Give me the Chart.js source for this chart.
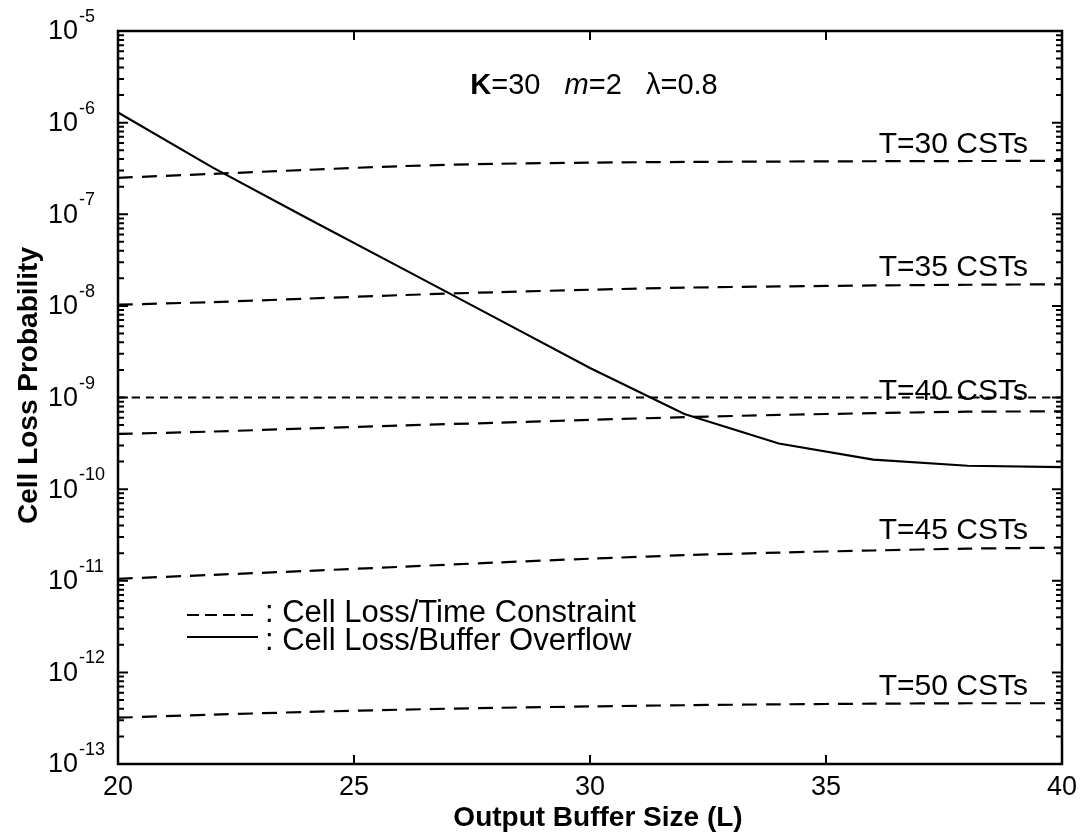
<!DOCTYPE html>
<html>
<head>
<meta charset="utf-8">
<script src="https://cdn.jsdelivr.net/npm/chart.js@4.4.1/dist/chart.umd.min.js"></script>
<style>
  html, body { margin: 0; padding: 0; background: #fff; }
  #wrap { width: 1083px; height: 840px; }
</style>
</head>
<body>
<div id="wrap"><canvas id="chart" width="1083" height="840"></canvas></div>
<script>
// Output buffer size L
const bufferSizes = [20, 22, 24, 26, 28, 30, 32, 34, 36, 38, 40];

// cell loss due to buffer overflow
const overflowLoss = [1.29e-6, 3.25e-7, 9.1e-8, 2.6e-8, 7.4e-9, 2.1e-9, 6.6e-10, 3.15e-10, 2.1e-10, 1.8e-10, 1.74e-10];

// cell loss due to the time constraint, T in CSTs
const lossT30 = [2.5e-7, 2.76e-7, 3.05e-7, 3.35e-7, 3.55e-7, 3.66e-7, 3.72e-7, 3.76e-7, 3.79e-7, 3.81e-7, 3.82e-7];
const lossT35 = [1.03e-8, 1.1e-8, 1.2e-8, 1.31e-8, 1.41e-8, 1.5e-8, 1.58e-8, 1.63e-8, 1.67e-8, 1.7e-8, 1.72e-8];
const lossT40 = [4.0e-10, 4.25e-10, 4.6e-10, 4.95e-10, 5.3e-10, 5.7e-10, 6.1e-10, 6.45e-10, 6.75e-10, 7.0e-10, 7.05e-10];
const lossT40b = [1e-9, 1e-9, 1e-9, 1e-9, 1e-9, 1e-9, 1e-9, 1e-9, 1e-9, 1e-9, 1e-9];
const lossT45 = [1.05e-11, 1.16e-11, 1.28e-11, 1.42e-11, 1.58e-11, 1.74e-11, 1.9e-11, 2.03e-11, 2.14e-11, 2.24e-11, 2.3e-11];
const lossT50 = [3.2e-13, 3.45e-13, 3.7e-13, 3.92e-13, 4.1e-13, 4.25e-13, 4.38e-13, 4.48e-13, 4.55e-13, 4.6e-13, 4.6e-13];

const curveNames = ['T=30 CSTs', 'T=35 CSTs', 'T=40 CSTs', 'T=45 CSTs', 'T=50 CSTs'];

// axis ticks
const xTicks = [20, 25, 30, 35, 40];
const yExponents = [-5, -6, -7, -8, -9, -10, -11, -12, -13];
const minorSteps = [2, 3, 4, 5, 6, 7, 8, 9];

const FONT = '"Liberation Sans", Arial, Helvetica, sans-serif';

function toPoints(ys) {
    return bufferSizes.map((x, i) => ({ x: x, y: ys[i] }));
}

function dashed(ys, dash, name) {
    return {
        label: name,
        data: toPoints(ys),
        borderColor: '#000',
        borderWidth: 2.2,
        borderDash: dash,
        pointRadius: 0,
        tension: 0.3,
        fill: false
    };
}

// which dataset each "T=.. CSTs" label sits on, and how far above it
const labelPlacement = [
    { dataset: 1, dy: -8 },
    { dataset: 2, dy: -8 },
    { dataset: 4, dy: 2 },
    { dataset: 5, dy: -9 },
    { dataset: 6, dy: -8 }
];

function tickPair(ctx, area, py, len) {
    ctx.beginPath();
    ctx.moveTo(area.left, py);
    ctx.lineTo(area.left + len, py);
    ctx.moveTo(area.right, py);
    ctx.lineTo(area.right - len, py);
    ctx.stroke();
}

// frame, ticks, labels, legend and annotations all drawn by hand
const decorations = {
    id: 'decorations',
    afterDraw(chart) {
        const ctx = chart.ctx;
        const area = chart.chartArea;
        const xs = chart.scales.x;
        const ys = chart.scales.y;
        ctx.save();
        ctx.setLineDash([]);
        ctx.strokeStyle = '#000';
        ctx.fillStyle = '#000';

        // frame
        ctx.lineWidth = 2.5;
        ctx.strokeRect(area.left, area.top, area.right - area.left, area.bottom - area.top);

        // y ticks on both sides: decades long, 2..9 short
        ctx.lineWidth = 2;
        yExponents.forEach(e => {
            const base = Math.pow(10, e);
            tickPair(ctx, area, ys.getPixelForValue(base), 10);
            if (e < -5) {
                minorSteps.forEach(k => {
                    tickPair(ctx, area, ys.getPixelForValue(k * base), 6);
                });
            }
        });
        // x ticks top and bottom
        ctx.beginPath();
        xTicks.forEach(v => {
            const px = xs.getPixelForValue(v);
            ctx.moveTo(px, area.bottom); ctx.lineTo(px, area.bottom - 9);
            ctx.moveTo(px, area.top); ctx.lineTo(px, area.top + 9);
        });
        ctx.stroke();

        // y tick labels: 10 with superscript exponent
        yExponents.forEach(e => {
            const py = ys.getPixelForValue(Math.pow(10, e));
            ctx.font = '27px ' + FONT;
            ctx.textAlign = 'left';
            ctx.textBaseline = 'middle';
            ctx.fillText('10', 48, py + 1);
            const w = ctx.measureText('10').width;
            ctx.font = '18px ' + FONT;
            ctx.textBaseline = 'alphabetic';
            ctx.fillText('-' + Math.abs(e), 48 + w + 1, py - 9);
        });

        // x tick labels
        ctx.font = '27px ' + FONT;
        ctx.textAlign = 'center';
        ctx.textBaseline = 'alphabetic';
        xTicks.forEach(v => {
            ctx.fillText(String(v), xs.getPixelForValue(v), area.bottom + 31);
        });

        // axis titles
        ctx.font = 'bold 28px ' + FONT;
        ctx.fillText('Output Buffer Size (L)', (area.left + area.right) / 2 + 8, area.bottom + 62);
        ctx.save();
        ctx.translate(37, (area.top + area.bottom) / 2 - 12);
        ctx.rotate(-Math.PI / 2);
        ctx.fillText('Cell Loss Probability', 0, 0);
        ctx.restore();

        // parameter line: K bold, m italic
        const parts = [
            { t: 'K', f: 'bold 29px ' },
            { t: '=30', f: '29px ' },
            { t: '   ', f: '29px ' },
            { t: 'm', f: 'italic 29px ' },
            { t: '=2', f: '29px ' },
            { t: '   ', f: '29px ' },
            { t: '\u03bb=0.8', f: '29px ' }
        ];
        let total = 0;
        parts.forEach(p => { ctx.font = p.f + FONT; p.w = ctx.measureText(p.t).width; total += p.w; });
        let cx = 594 - total / 2;
        ctx.textAlign = 'left';
        parts.forEach(p => { ctx.font = p.f + FONT; ctx.fillText(p.t, cx, area.top + 63); cx += p.w; });

        // curve labels near the right edge
        ctx.font = '30px ' + FONT;
        ctx.textAlign = 'right';
        labelPlacement.forEach((lp, i) => {
            const meta = chart.getDatasetMeta(lp.dataset);
            const last = meta.data[meta.data.length - 1];
            ctx.fillText(curveNames[i], area.right - 34, last.y + lp.dy);
        });

        // legend
        ctx.lineWidth = 2;
        ctx.setLineDash([12, 6]);
        ctx.beginPath();
        ctx.moveTo(187, 615); ctx.lineTo(257, 615);
        ctx.stroke();
        ctx.setLineDash([]);
        ctx.beginPath();
        ctx.moveTo(187, 637); ctx.lineTo(258, 637);
        ctx.stroke();
        ctx.font = '31px ' + FONT;
        ctx.textAlign = 'left';
        ctx.fillText(': Cell Loss/Time Constraint', 265, 622);
        ctx.fillText(': Cell Loss/Buffer Overflow', 265, 650);

        ctx.restore();
    }
};

new Chart(document.getElementById('chart'), {
    type: 'line',
    data: {
        datasets: [
            {
                label: 'Cell Loss/Buffer Overflow',
                data: toPoints(overflowLoss),
                borderColor: '#000',
                borderWidth: 2.2,
                pointRadius: 0,
                tension: 0,
                fill: false
            },
            dashed(lossT30, [15, 9], 'T=30'),
            dashed(lossT35, [15, 9], 'T=35'),
            dashed(lossT40, [15, 9], 'T=40'),
            dashed(lossT40b, [8, 6], 'T=40 bound'),
            dashed(lossT45, [15, 9], 'T=45'),
            dashed(lossT50, [15, 9], 'T=50')
        ]
    },
    options: {
        responsive: false,
        animation: false,
        layout: { padding: { left: 118, right: 21, top: 31, bottom: 76 } },
        plugins: { legend: { display: false }, tooltip: { enabled: false } },
        scales: {
            x: { type: 'linear', min: 20, max: 40, display: false },
            y: { type: 'logarithmic', min: 1e-13, max: 1e-5, display: false }
        }
    },
    plugins: [decorations]
});
</script>
</body>
</html>
